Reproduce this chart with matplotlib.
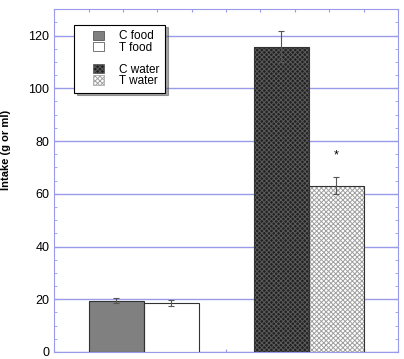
import matplotlib.pyplot as plt
from matplotlib.patches import Patch, Rectangle
from matplotlib.legend_handler import HandlerPatch

# data
labels = ['C food', 'T food', 'C water', 'T water']
means = [19.4, 18.7, 115.8, 63.0]
errors = [1.0, 1.2, 6.0, 3.2]
sig_value = 74.5   # position of the asterisk above T water

x_pos = [1.8, 3.4, 6.6, 8.2]
faces = ['#808080', 'white', '#222222', 'white']
hatches = [None, None, 'xxxxxxx', 'xxxxxxx']
hatch_cols = ['#404040', '#404040', '#5a5a5a', '#a0a0a0']

axis_col = '#9a9aea'

plt.rcParams['font.family'] = ['Liberation Sans', 'DejaVu Sans']
plt.rcParams['hatch.linewidth'] = 0.7


# legend square pushed to the right end of the handle box
def square_right(legend, orig_handle, xdescent, ydescent, width, height, fontsize):
    w = 0.93 * fontsize
    return Rectangle((-xdescent + width - w, -ydescent), w, height)


fig = plt.figure(figsize=(4.04, 3.59), dpi=100)
ax = fig.add_axes([0.134, 0.0195, 0.851, 0.955])

handles = []
for i in range(len(labels)):
    ax.bar(x_pos[i], means[i], width=1.6, color=faces[i], edgecolor=hatch_cols[i],
           hatch=hatches[i], linewidth=0, zorder=3)
    ax.bar(x_pos[i], means[i], width=1.6, fill=False, edgecolor='#333333',
           linewidth=0.8, zorder=4)
    ax.errorbar(x_pos[i], means[i], yerr=errors[i], fmt='none', ecolor='#555555',
                elinewidth=0.8, capsize=2, capthick=0.8, zorder=5)
    handles.append(Patch(facecolor=faces[i], edgecolor=hatch_cols[i], hatch=hatches[i],
                         linewidth=0.5, label=labels[i]))

ax.text(x_pos[3], sig_value, '*', ha='center', va='center', fontsize=9)

ax.set_xlim(0, 10)
ax.set_ylim(0, 130)
ax.set_xticks(range(11))
ax.set_xticklabels([])
ax.set_yticks(range(0, 121, 20))
ax.set_yticks(range(0, 131, 5), minor=True)
ax.tick_params(axis='both', which='both', direction='in', top=True, right=True,
               color=axis_col, labelsize=9)
ax.tick_params(which='major', length=3)
ax.tick_params(which='minor', length=2)
ax.tick_params(axis='x', which='major', length=2)
ax.yaxis.grid(True, color=axis_col, linewidth=1.0, zorder=0)
ax.set_axisbelow(True)
for s in ax.spines.values():
    s.set_color(axis_col)
ax.set_ylabel('Intake (g or ml)', fontsize=8, fontweight='bold')
ax.yaxis.set_label_coords(-0.125, 0.59)

blank = Patch(visible=False, label='')
hmap = {h: HandlerPatch(patch_func=square_right) for h in handles}
leg = ax.legend([handles[0], handles[1], blank, handles[2], handles[3]],
                ['C food', 'T food', '', 'C water', 'T water'],
                handler_map=hmap,
                loc='upper left', bbox_to_anchor=(0.058, 0.955), fontsize=8.5,
                frameon=True, fancybox=False, shadow=True, labelspacing=-0.08,
                handlelength=2.05, handleheight=0.9, handletextpad=1.25,
                borderpad=0.5, borderaxespad=0)
leg.get_frame().set_edgecolor('black')
leg.get_frame().set_linewidth(0.8)

fig.savefig('out.png', dpi=100)
